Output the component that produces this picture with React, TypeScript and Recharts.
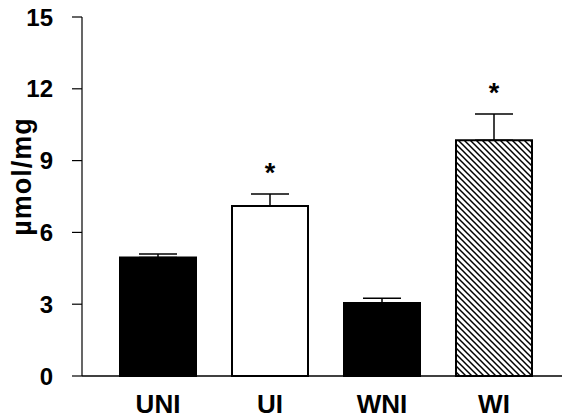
import React from 'react';
import {
  BarChart,
  Bar,
  XAxis,
  YAxis,
  ErrorBar,
  Cell,
  LabelList
} from 'recharts';

// groups and measured values (µmol/mg)
const groups = ['UNI', 'UI', 'WNI', 'WI'];
const means = [4.95, 7.1, 3.05, 9.85];
const errors = [0.15, 0.5, 0.2, 1.1];
const significant = [false, true, false, true];
const yTicks = [0, 3, 6, 9, 12, 15];

const fills = ['#000', '#fff', '#000', 'url(#hatch)'];

const data = groups.map((name, i) => ({
  name,
  mean: means[i],
  err: errors[i],
  errRange: [0, errors[i]],
  star: significant[i] ? '*' : ''
}));

const font = 'Arial, "Liberation Sans", Helvetica, sans-serif';

const YLabel = (props: any) => {
  const { viewBox } = props;
  const x = viewBox.x + 31;
  const y = viewBox.y + viewBox.height / 2 - 20;
  return (
    <text
      x={x}
      y={y}
      transform={`rotate(-90, ${x}, ${y})`}
      textAnchor="middle"
      fontFamily={font}
      fontWeight="bold"
      fontSize={27}
      letterSpacing={1}
      fill="#000"
    >
      µmol/mg
    </text>
  );
};

const YTick = (props: any) => {
  const { x, y, payload } = props;
  return (
    <text
      x={x}
      y={y}
      dy={8.5}
      textAnchor="end"
      fontFamily={font}
      fontWeight="bold"
      fontSize={24}
      fill="#000"
    >
      {payload.value}
    </text>
  );
};

const XTick = (props: any) => {
  const { x, y, payload } = props;
  return (
    <text
      x={x}
      y={y}
      dy={19}
      textAnchor="middle"
      fontFamily={font}
      fontWeight="bold"
      fontSize={26}
      fill="#000"
    >
      {payload.value}
    </text>
  );
};

const Star = (props: any) => {
  const { x, y, width, value } = props;
  if (!value) return null;
  return (
    <text
      x={x + width / 2}
      y={y - 12}
      textAnchor="middle"
      fontFamily={font}
      fontWeight="bold"
      fontSize={27}
      fill="#000"
    >
      {value}
    </text>
  );
};

export default function App() {
  return (
    <div style={{ position: 'absolute', left: 0, top: 0, background: '#fff' }}>
      <BarChart
        width={562}
        height={418}
        data={data}
        margin={{ top: 17, right: 0, left: 0, bottom: 0 }}
        barCategoryGap={18}
      >
        <defs>
          <pattern id="hatch" width={6} height={6} patternUnits="userSpaceOnUse">
            <rect width={6} height={6} fill="#fff" />
            <path
              d="M0,0 L6,6 M-3,3 L3,9 M3,-3 L9,3"
              stroke="#000"
              strokeWidth={1.5}
            />
          </pattern>
        </defs>
        <XAxis
          dataKey="name"
          height={42}
          padding={{ left: 20, right: 12 }}
          tickLine={false}
          tickSize={18}
          tickMargin={0}
          axisLine={{ stroke: '#000', strokeWidth: 1.5 }}
          tick={<XTick />}
        />
        <YAxis
          width={82}
          domain={[0, 15]}
          ticks={yTicks}
          interval={0}
          tickSize={10}
          tickMargin={19}
          axisLine={{ stroke: '#000', strokeWidth: 1.2 }}
          tickLine={{ stroke: '#000', strokeWidth: 1.2 }}
          tick={<YTick />}
          label={<YLabel />}
        />
        <Bar dataKey="mean" stackId="a" isAnimationActive={false} stroke="#000" strokeWidth={2}>
          {data.map((d, i) => (
            <Cell key={d.name} fill={fills[i]} />
          ))}
          <ErrorBar
            dataKey="errRange"
            direction="y"
            width={19}
            stroke="#000"
            strokeWidth={1.5}
            isAnimationActive={false}
          />
        </Bar>
        <Bar dataKey="err" stackId="a" fill="none" stroke="none" isAnimationActive={false}>
          <LabelList dataKey="star" content={<Star />} />
        </Bar>
      </BarChart>
    </div>
  );
}
